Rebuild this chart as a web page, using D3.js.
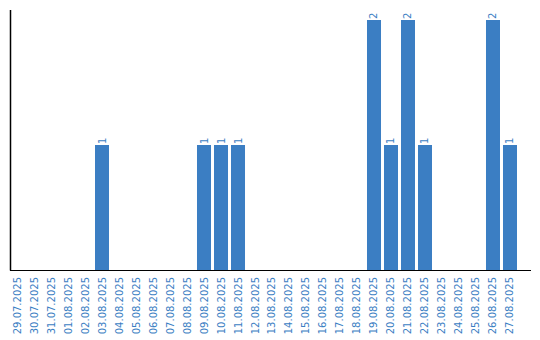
<!DOCTYPE html>
<html>
<head>
<meta charset="utf-8">
<script src="https://cdn.jsdelivr.net/npm/d3@7"></script>
<style>
  body { margin: 0; background: #fff; }
  text { font-family: "DejaVu Sans", Verdana, sans-serif; }
</style>
</head>
<body>
<div id="chart"></div>
<script>
// day labels along the x axis
var dates = ["29.07.2025", "30.07.2025", "31.07.2025", "01.08.2025", "02.08.2025",
  "03.08.2025", "04.08.2025", "05.08.2025", "06.08.2025", "07.08.2025",
  "08.08.2025", "09.08.2025", "10.08.2025", "11.08.2025", "12.08.2025",
  "13.08.2025", "14.08.2025", "15.08.2025", "16.08.2025", "17.08.2025",
  "18.08.2025", "19.08.2025", "20.08.2025", "21.08.2025", "22.08.2025",
  "23.08.2025", "24.08.2025", "25.08.2025", "26.08.2025", "27.08.2025"];

// counts per day
var counts = [0, 0, 0, 0, 0,
  1, 0, 0, 0, 0,
  0, 1, 1, 1, 0,
  0, 0, 0, 0, 0,
  0, 2, 1, 2, 1,
  0, 0, 0, 2, 1];

var svgWidth = 540;
var svgHeight = 340;
var barColor = "#3b7ec3";

var svg = d3.select("#chart")
  .append("svg")
  .attr("width", svgWidth)
  .attr("height", svgHeight);

var data = dates.map(function (d, i) {
  return { date: d, count: counts[i] };
});

// scales
var xBandScale = d3.scaleBand()
  .domain(dates)
  .range([10, 517])
  .paddingInner(0.176)
  .paddingOuter(0);

var yLinearScale = d3.scaleLinear()
  .domain([0, 2.08])
  .range([270, 10]);

// bars
svg.append("g").selectAll("rect")
  .data(data.filter(d => d.count > 0))
  .enter()
  .append("rect")
  .attr("x", d => xBandScale(d.date))
  .attr("y", d => yLinearScale(d.count))
  .attr("width", xBandScale.bandwidth())
  .attr("height", d => yLinearScale(0) - yLinearScale(d.count))
  .attr("fill", barColor);

// value labels above the bars
svg.append("g").selectAll("text")
  .data(data.filter(d => d.count > 0))
  .enter()
  .append("text")
  .attr("transform", d => `translate(${xBandScale(d.date) + xBandScale.bandwidth() / 2}, ${yLinearScale(d.count) - 1}) rotate(-90)`)
  .attr("dy", "0.35em")
  .attr("font-size", "10px")
  .attr("fill", barColor)
  .text(d => d.count);

// x axis, labels only
var bottomAxis = d3.axisBottom(xBandScale).tickSize(0).tickPadding(0);
var xAxisGroup = svg.append("g")
  .attr("transform", `translate(0, ${yLinearScale(0)})`)
  .call(bottomAxis);
xAxisGroup.select(".domain").remove();
xAxisGroup.selectAll("text")
  .attr("font-family", "DejaVu Sans, Verdana, sans-serif")
  .attr("font-size", "10px")
  .attr("fill", barColor)
  .attr("text-anchor", "end")
  .attr("transform", "rotate(-90)")
  .attr("x", -7)
  .attr("y", 0)
  .attr("dy", "0.35em");

// axis lines
svg.append("line")
  .attr("x1", 10.5).attr("x2", 10.5)
  .attr("y1", yLinearScale(2.08)).attr("y2", yLinearScale(0) + 0.5)
  .attr("stroke", "#000")
  .attr("stroke-width", 1.5);
svg.append("line")
  .attr("x1", 10).attr("x2", 531)
  .attr("y1", yLinearScale(0) + 0.5).attr("y2", yLinearScale(0) + 0.5)
  .attr("stroke", "#000")
  .attr("stroke-width", 1);
</script>
</body>
</html>
